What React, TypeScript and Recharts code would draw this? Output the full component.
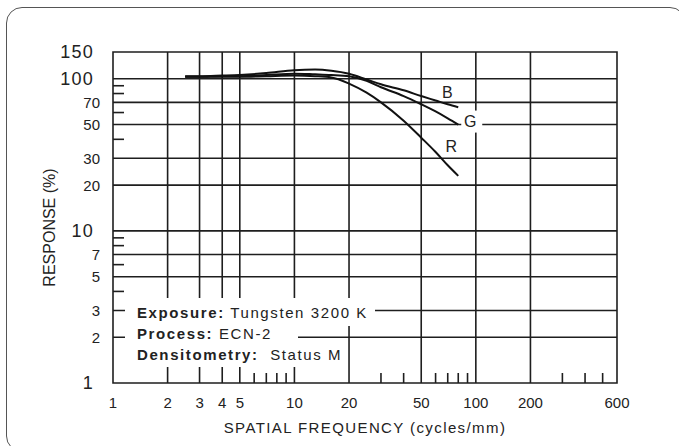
import React from 'react';
import {
  LineChart, Line, XAxis, YAxis, ReferenceLine, ReferenceArea, ReferenceDot, Label,
} from 'recharts';

// spatial frequency (cycles/mm) sampled along the three MTF curves
const FREQ = [2.5, 3, 4, 5, 7, 10, 13, 16, 20, 25, 30, 40, 50, 60, 70, 80];
const RESP_B = [104, 104, 105, 106, 109, 114, 115, 113, 108, 99, 92, 84, 77, 72, 68, 65];
const RESP_G = [103, 103, 104, 104, 106, 108, 107, 106, 104, 97, 88, 77, 68, 61, 55, 50];
const RESP_R = [103, 103, 103, 103, 104, 105, 104, 102, 93, 81, 70, 53, 41, 33, 27, 23];

const X_LABELS = [1, 2, 3, 4, 5, 10, 20, 50, 100, 200, 600];
const X_GRID = [2, 3, 4, 5, 10, 20, 50, 100, 200];
const X_MINOR = [6, 7, 8, 9, 30, 40, 60, 70, 80, 90, 300, 400, 500];
const Y_LABELS = [1, 2, 3, 5, 7, 10, 20, 30, 50, 70, 100, 150];
const Y_GRID = [2, 3, 5, 7, 10, 20, 30, 50, 70, 100];
const Y_MINOR = [4, 6, 8, 9, 40, 60, 80, 90];
const Y_BIG = [1, 10, 100, 150];

const CONDITIONS = [
  { key: 'Exposure:', value: ' Tungsten 3200 K' },
  { key: 'Process:', value: ' ECN-2' },
  { key: 'Densitometry:', value: '  Status M' },
];

const X_DOMAIN = [1, 600];
const Y_DOMAIN = [1, 150];
const X_TICKS = [...X_LABELS, ...X_MINOR].sort((a, b) => a - b);
const Y_TICKS = [...Y_LABELS, ...Y_MINOR].sort((a, b) => a - b);
const FONT = '"Liberation Sans", Arial, Helvetica, sans-serif';
const INK = '#222';
const GRID = '#1e1e1e';
const X_GAP = 14; // tick label offset below the plot
const Y_GAP = 13; // tick label offset left of the plot
const MINOR_LEN = 10;

const data = FREQ.map((f, i) => ({ f, B: RESP_B[i], G: RESP_G[i], R: RESP_R[i] }));
const last = FREQ.length - 1;

// labels outside, short minor ticks drawn inward from the frame
const XTick = (props: any) => {
  const { x, y, payload } = props;
  if (X_MINOR.includes(payload.value)) {
    return <line x1={x} x2={x} y1={y - X_GAP} y2={y - X_GAP - MINOR_LEN} stroke={GRID} strokeWidth={1.6} />;
  }
  return (
    <text x={x} y={y} dy="0.71em" textAnchor="middle" fontSize={15} fill={INK} fontFamily={FONT}>
      {payload.value}
    </text>
  );
};

const YTick = (props: any) => {
  const { x, y, payload } = props;
  if (Y_MINOR.includes(payload.value)) {
    return <line x1={x + Y_GAP} x2={x + Y_GAP + MINOR_LEN + 1} y1={y} y2={y} stroke={GRID} strokeWidth={1.6} />;
  }
  const big = Y_BIG.includes(payload.value);
  return (
    <text
      x={big ? x - 6 : x}
      y={y}
      dy="0.36em"
      textAnchor="end"
      fontSize={big ? 18 : 15}
      letterSpacing={big ? 1.2 : 0}
      fill={INK}
      fontFamily={FONT}
    >
      {payload.value}
    </text>
  );
};

const XTitle = (props: any) => {
  const vb = props.viewBox;
  if (!vb) return null;
  return (
    <text x={vb.x + vb.width / 2} y={vb.y + vb.height} textAnchor="middle" fontSize={15}
      letterSpacing={1.4} fill={INK} fontFamily={FONT}>
      SPATIAL FREQUENCY (cycles/mm)
    </text>
  );
};

const YTitle = (props: any) => {
  const vb = props.viewBox;
  if (!vb) return null;
  const cx = vb.x - 4;
  const cy = vb.y + vb.height / 2 + 10;
  return (
    <text x={cx} y={cy} dy="0.36em" transform={`rotate(-90, ${cx}, ${cy})`} textAnchor="middle"
      fontSize={16} fill={INK} fontFamily={FONT}>
      RESPONSE (%)
    </text>
  );
};

// letter placed next to the end of each curve
const CurveTag = (props: any) => {
  const { viewBox, tag, ox, oy, knockout } = props;
  if (!viewBox) return null;
  const cx = viewBox.x + (viewBox.width || 0) / 2 + ox;
  const cy = viewBox.y + (viewBox.height || 0) / 2 + oy;
  return (
    <g>
      {knockout && <rect x={cx - 9} y={cy - 11} width={21} height={22} fill="#fff" />}
      <text x={cx} y={cy} dy="0.36em" textAnchor="middle" fontSize={16} fill={INK} fontFamily={FONT}>
        {tag}
      </text>
    </g>
  );
};

const gridLine = { stroke: GRID, strokeWidth: 1.6 };

export default function App() {
  return (
    <div style={{ position: 'absolute', left: 0, top: 0, width: 679, height: 446, background: '#fff', overflow: 'hidden', fontFamily: FONT }}>
      <div style={{ position: 'absolute', left: 6, top: 7, width: 680, height: 445, border: '1.3px solid #555', borderRadius: 16, boxSizing: 'border-box' }} />
      <LineChart width={679} height={446} data={data} margin={{ top: 52, right: 62, bottom: 13, left: 53 }}>
        <XAxis dataKey="f" type="number" scale="log" domain={X_DOMAIN} allowDataOverflow ticks={X_TICKS}
          tick={<XTick />} tickLine={false} axisLine={false} tickSize={0} tickMargin={X_GAP} height={50} interval={0}>
          <Label content={<XTitle />} />
        </XAxis>
        <YAxis type="number" scale="log" domain={Y_DOMAIN} allowDataOverflow ticks={Y_TICKS}
          tick={<YTick />} tickLine={false} axisLine={false} tickSize={0} tickMargin={Y_GAP} width={60} interval={0}>
          <Label content={<YTitle />} />
        </YAxis>

        {Y_GRID.map((v) => <ReferenceLine key={`y${v}`} y={v} {...gridLine} />)}
        {X_GRID.map((v) => <ReferenceLine key={`x${v}`} x={v} {...gridLine} />)}
        <ReferenceArea x1={X_DOMAIN[0]} x2={X_DOMAIN[1]} y1={Y_DOMAIN[0]} y2={Y_DOMAIN[1]}
          fill="none" fillOpacity={0} {...gridLine} />

        <Line dataKey="B" type="monotone" stroke="#111" strokeWidth={2} dot={false} isAnimationActive={false} />
        <Line dataKey="G" type="monotone" stroke="#111" strokeWidth={2} dot={false} isAnimationActive={false} />
        <Line dataKey="R" type="monotone" stroke="#111" strokeWidth={2} dot={false} isAnimationActive={false} />

        <ReferenceDot x={FREQ[last]} y={RESP_B[last]} r={0} stroke="none"
          label={<CurveTag tag="B" ox={-11} oy={-15} />} />
        <ReferenceDot x={FREQ[last]} y={RESP_G[last]} r={0} stroke="none"
          label={<CurveTag tag="G" ox={12} oy={-3} knockout />} />
        <ReferenceDot x={FREQ[last]} y={RESP_R[last]} r={0} stroke="none"
          label={<CurveTag tag="R" ox={-7} oy={-30} />} />
      </LineChart>

      {/* conditions box: white knockouts break the grid behind the text */}
      <div style={{ position: 'absolute', left: 125, top: 298, width: 250, height: 28, background: '#fff' }} />
      <div style={{ position: 'absolute', left: 125, top: 326, width: 173, height: 18, background: '#fff' }} />
      <div style={{ position: 'absolute', left: 125, top: 344, width: 185, height: 23, background: '#fff' }} />
      {CONDITIONS.map((c, i) => (
        <div key={c.key} style={{ position: 'absolute', left: 137, top: 304 + i * 21, fontSize: 15, lineHeight: '17px', letterSpacing: 1.6, color: INK, whiteSpace: 'pre' }}>
          <b>{c.key}</b>{c.value}
        </div>
      ))}
    </div>
  );
}
